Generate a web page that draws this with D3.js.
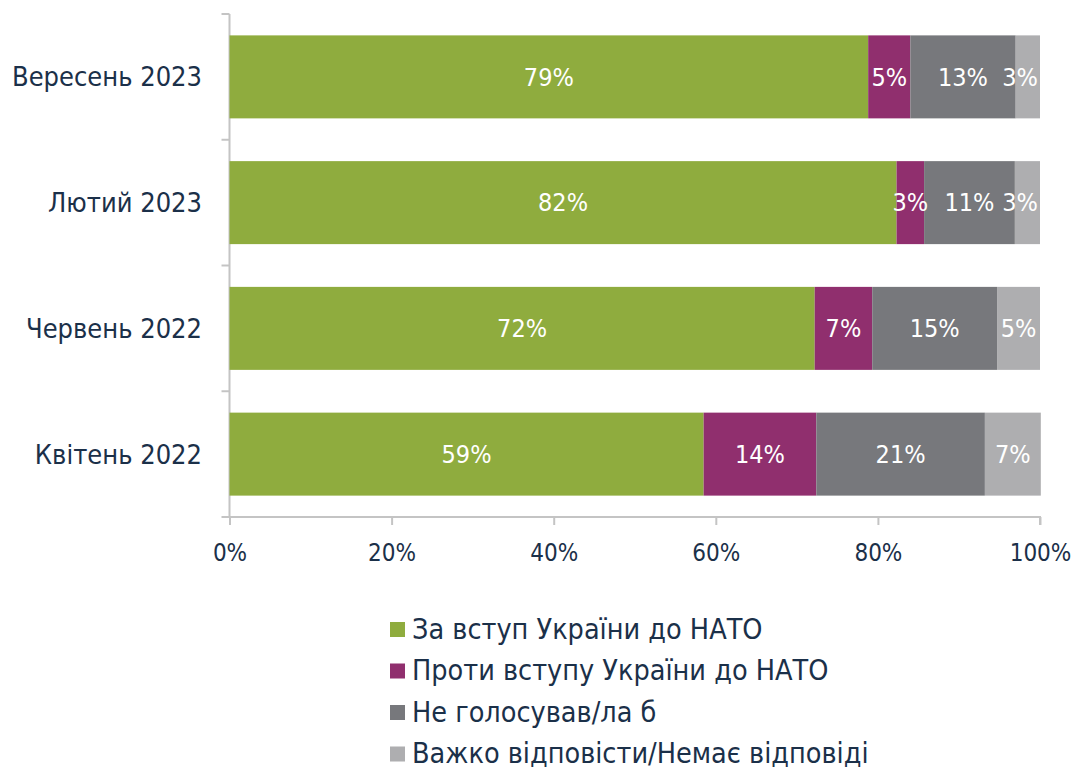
<!DOCTYPE html>
<html>
<head>
<meta charset="utf-8">
<script src="https://cdn.jsdelivr.net/npm/d3@7"></script>
<style>
	body { margin: 0; background: #ffffff; }
	svg text { font-family: "DejaVu Sans Condensed", "DejaVu Sans", sans-serif; font-stretch: condensed; }
</style>
</head>
<body>
<svg id="chart" width="1075" height="771"></svg>
<script>

//****************************************************************************************************************************//
// Data

var categories = ["Вересень 2023", "Лютий 2023", "Червень 2022", "Квітень 2022"];
var seriesNames = ["За вступ України до НАТО", "Проти вступу України до НАТО", "Не голосував/ла б", "Важко відповісти/Немає відповіді"];
var forJoining     = [78.8, 82.3, 72.2, 58.5];
var againstJoining = [5.2, 3.4, 7.1, 13.9];
var wouldNotVote   = [13.0, 11.2, 15.4, 20.8];
var hardToSay      = [3.0, 3.1, 5.3, 6.9];
var xTicks = [0, 20, 40, 60, 80, 100];

var seriesColors = ["#8fac3e", "#902f6e", "#77787c", "#aeaeb0"];
var textColor = "#1b3049";
var axisColor = "#c4c4c4";

//****************************************************************************************************************************//
// Setup

var canvas = d3.select("#chart");
var seriesValues = [forJoining, againstJoining, wouldNotVote, hardToSay];

var xScale = d3.scaleLinear()
				.domain([0, 100])
				.range([229.5, 1040]);

var yScale = d3.scaleBand()
				.domain(categories)
				.range([14, 517])
				.paddingInner(0.34)
				.paddingOuter(0.17);

//****************************************************************************************************************************//
// Axes

var xAxis = d3.axisBottom(xScale)
				.tickValues(xTicks)
				.tickSize(8)
				.tickFormat(function(d){ return d + "%"; });

var xAxisGroup = canvas.append("g")
				.attr("transform", "translate(0,517)")
				.call(xAxis);

xAxisGroup.select(".domain").attr("stroke", axisColor).attr("stroke-width", 2)
				.attr("d", "M" + (xScale(0) - 8) + ",0H" + xScale(100) + "V8");
xAxisGroup.selectAll(".tick line").attr("stroke", axisColor).attr("stroke-width", 2);
xAxisGroup.selectAll(".tick text")
				.attr("y", 36)
				.attr("dy", "0.35em")
				.attr("fill", textColor)
				.style("font-size", "24px");

// y axis line with ticks at category boundaries
var yAxisGroup = canvas.append("g");
yAxisGroup.append("line")
				.attr("x1", xScale(0)).attr("x2", xScale(0))
				.attr("y1", yScale.range()[0]).attr("y2", yScale.range()[1])
				.attr("stroke", axisColor).attr("stroke-width", 2);

var boundaries = d3.range(categories.length).map(function(i){ return yScale.range()[0] + i * yScale.step(); });
yAxisGroup.selectAll(".ytick")
				.data(boundaries)
				.enter().append("line")
				.attr("x1", xScale(0) - 8).attr("x2", xScale(0))
				.attr("y1", function(d){ return d; }).attr("y2", function(d){ return d; })
				.attr("stroke", axisColor).attr("stroke-width", 2);

yAxisGroup.selectAll(".ylabel")
				.data(categories)
				.enter().append("text")
				.attr("x", 202)
				.attr("y", function(d){ return yScale(d) + yScale.bandwidth() / 2; })
				.attr("dy", "0.35em")
				.attr("text-anchor", "end")
				.attr("fill", textColor)
				.style("font-size", "27px")
				.text(function(d){ return d; });

//****************************************************************************************************************************//
// Bars

var stacked = categories.map(function(c, i){
	var start = 0;
	return seriesValues.map(function(vals, s){
		var seg = {category : c, series : s, x0 : start, x1 : start + vals[i], value : vals[i]};
		start += vals[i];
		return seg;
	});
});

var barGroups = canvas.append("g").selectAll("g")
				.data(stacked)
				.enter().append("g");

barGroups.selectAll("rect")
				.data(function(d){ return d; })
				.enter().append("rect")
				.attr("x", function(d){ return xScale(d.x0); })
				.attr("y", function(d){ return yScale(d.category); })
				.attr("width", function(d){ return xScale(d.x1) - xScale(d.x0); })
				.attr("height", yScale.bandwidth())
				.attr("fill", function(d){ return seriesColors[d.series]; });

barGroups.selectAll("text")
				.data(function(d){ return d; })
				.enter().append("text")
				.attr("y", function(d){ return yScale(d.category) + yScale.bandwidth() / 2; })
				.attr("dy", "0.35em")
				.attr("text-anchor", "middle")
				.attr("fill", "white")
				.style("font-size", "25px")
				.text(function(d){ return Math.round(d.value) + "%"; })
				.attr("x", function(d){
					var cx = (xScale(d.x0) + xScale(d.x1)) / 2;
					var half = this.getComputedTextLength() / 2;
					return Math.min(cx, xScale(100) - half - 2);
				});

//****************************************************************************************************************************//
// Legend

var legend = canvas.append("g").attr("transform", "translate(390,629)");
var legendItems = legend.selectAll("g")
				.data(seriesNames)
				.enter().append("g")
				.attr("transform", function(d, i){ return "translate(0," + (i * 41.5) + ")"; });

legendItems.append("rect")
				.attr("x", 0).attr("y", -7)
				.attr("width", 15).attr("height", 15)
				.attr("fill", function(d, i){ return seriesColors[i]; });

legendItems.append("text")
				.attr("x", 22)
				.attr("y", 0)
				.attr("dy", "0.35em")
				.attr("fill", textColor)
				.style("font-size", "28.5px")
				.text(function(d){ return d; });

</script>
</body>
</html>
